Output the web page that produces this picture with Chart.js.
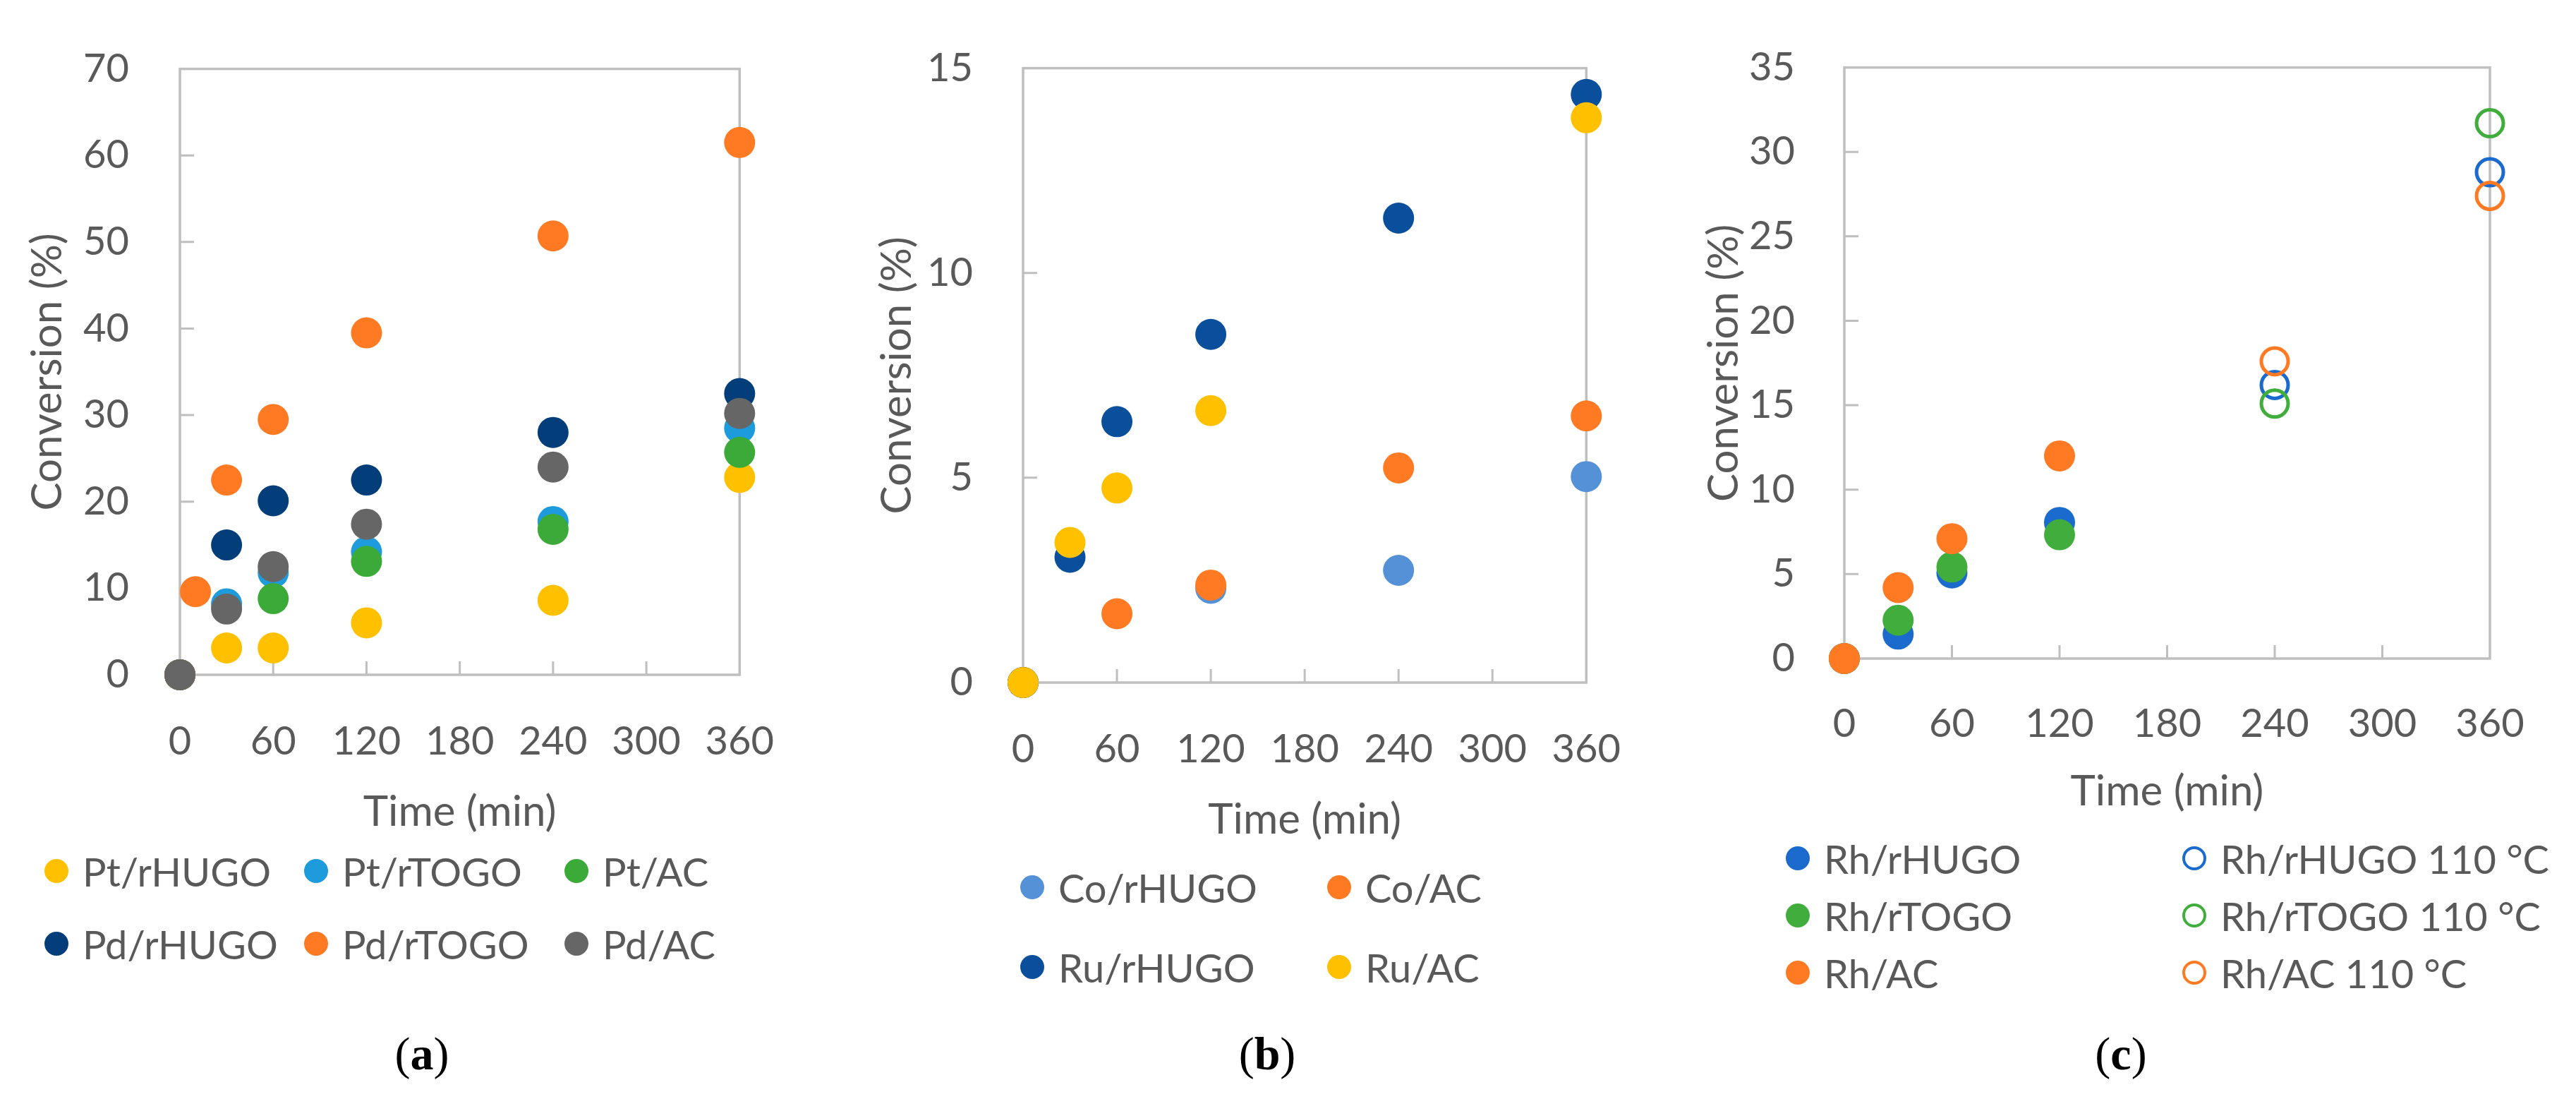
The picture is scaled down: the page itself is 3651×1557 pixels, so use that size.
<!DOCTYPE html>
<html>
<head>
<meta charset="utf-8">
<title>Conversion vs time</title>
<script src="https://cdn.jsdelivr.net/npm/chart.js@4.4.1/dist/chart.umd.min.js"></script>
<style>
	html, body {
		margin: 0;
		padding: 0;
		background: #ffffff;
	}

	#page {
		position: relative;
		width: 3651px;
		height: 1557px;
		overflow: hidden;
		font-family: Lato, "Open Sans", sans-serif;
		color: #595959;
	}

	canvas {
		position: absolute;
	}

	.lg-item {
		position: absolute;
		display: flex;
		align-items: center;
		height: 70px;
		font-size: 56px;
		white-space: nowrap;
	}

	.lg-mark {
		display: inline-block;
		box-sizing: border-box;
		width: 34px;
		height: 34px;
		border-radius: 50%;
		margin-right: 20px;
	}

	.caption {
		position: absolute;
		top: 1455px;
		width: 200px;
		text-align: center;
		font-family: "Liberation Serif", "DejaVu Serif", serif;
		font-size: 66px;
		color: #000000;
	}
</style>
</head>
<body>
<div id="page">
	<canvas id="chartA" width="1150" height="1187" style="left:0px;top:0px"></canvas>
	<canvas id="chartB" width="1150" height="1198" style="left:1200px;top:0px"></canvas>
	<canvas id="chartC" width="1251" height="1158" style="left:2400px;top:0px"></canvas>
	<div class="caption" style="left:498px">(<b>a</b>)</div>
	<div class="caption" style="left:1696px">(<b>b</b>)</div>
	<div class="caption" style="left:2906px">(<b>c</b>)</div>
</div>

<script>
/* =========================================
	DATA  (conversion in %, time in min)
=========================================*/

// (a) Pt and Pd catalysts
const timesA = [0, 30, 60, 120, 240, 360];
const timesPdTOGO = [0, 10, 30, 60, 120, 240, 360];
const ptRHUGO = [0, 3.1, 3.1, 6.0, 8.6, 22.8];
const ptRTOGO = [0, 8.2, 11.8, 14.2, 17.7, 28.5];
const ptAC = [0, null, 8.8, 13.1, 16.8, 25.7];
const pdRHUGO = [0, 15.0, 20.1, 22.5, 28.0, 32.5];
const pdRTOGO = [0, 9.6, 22.5, 29.5, 39.5, 50.7, 61.5];
const pdAC = [0, 7.6, 12.5, 17.4, 24.0, 30.2];

// (b) Co and Ru catalysts
const timesB = [0, 30, 60, 120, 240, 360];
const coRHUGO = [0, null, null, 2.3, 2.74, 5.03];
const coAC = [0, null, 1.68, 2.38, 5.24, 6.51];
const ruRHUGO = [0, 3.06, 6.37, 8.5, 11.34, 14.36];
const ruAC = [0, 3.42, 4.75, 6.64, null, 13.79];

// (c) Rh catalysts, filled = standard, open = 110 °C
const timesC = [0, 30, 60, 120, 240, 360];
const rhRHUGO = [0, 1.45, 5.07, 8.06, null, null];
const rhRTOGO = [0, 2.27, 5.42, 7.33, null, null];
const rhAC = [0, 4.2, 7.1, 12.0, null, null];
const rhRHUGO110 = [null, null, null, null, 16.2, 28.8];
const rhRTOGO110 = [null, null, null, null, 15.1, 31.7];
const rhAC110 = [null, null, null, null, 17.6, 27.4];

// axis ticks
const xTicks = { min: 0, max: 360, step: 60 };
const yTicksA = { min: 0, max: 70, step: 10 };
const yTicksB = { min: 0, max: 15, step: 5 };
const yTicksC = { min: 0, max: 35, step: 5 };

const xTitle = "Time (min)";
const yTitle = "Conversion (%)";

/* =========================================
	STYLE
=========================================*/
const TEXT = "#595959";
const FRAME = "#bfbfbf";

Chart.defaults.font.family = "Lato, 'Open Sans', sans-serif";
Chart.defaults.color = TEXT;

function pairs(times, vals) {
	return times.map((t, i) => ({ x: t, y: vals[i] })).filter(p => p.y !== null);
}

function filled(label, color, times, vals) {
	return {
		label: label,
		data: pairs(times, vals),
		pointRadius: 22,
		pointHoverRadius: 22,
		pointBorderWidth: 0,
		pointBackgroundColor: color,
		pointBorderColor: color,
		clip: false,
		open: false,
		color: color
	};
}

function hollow(label, color, times, vals) {
	return {
		label: label,
		data: pairs(times, vals),
		pointRadius: 19,
		pointHoverRadius: 19,
		pointBorderWidth: 5,
		pointBackgroundColor: "rgba(0,0,0,0)",
		pointBorderColor: color,
		clip: false,
		open: true,
		color: color
	};
}

// later series are painted on top (as in the original spreadsheet chart)
function stackOrder(sets) {
	sets.forEach((ds, i) => { ds.order = -i; });
	return sets;
}

// frame around the plot + tick marks pointing inwards
const framePlugin = {
	id: "frame",
	beforeDatasetsDraw(chart) {
		const { ctx, chartArea: a, scales: { x, y } } = chart;
		ctx.save();
		ctx.strokeStyle = FRAME;
		ctx.lineWidth = 3.5;
		ctx.strokeRect(a.left, a.top, a.right - a.left, a.bottom - a.top);
		ctx.lineWidth = 3;
		ctx.beginPath();
		x.ticks.forEach(t => {
			const px = x.getPixelForValue(t.value);
			if (px > a.left + 2 && px < a.right - 2) {
				ctx.moveTo(px, a.bottom);
				ctx.lineTo(px, a.bottom - 19);
			}
		});
		y.ticks.forEach(t => {
			const py = y.getPixelForValue(t.value);
			if (py > a.top + 2 && py < a.bottom - 2) {
				ctx.moveTo(a.left, py);
				ctx.lineTo(a.left + 20, py);
			}
		});
		ctx.stroke();
		ctx.restore();
	}
};

// box: plot area position inside the canvas
function makeChart(id, datasets, yt, box) {
	const canvas = document.getElementById(id);
	return new Chart(canvas, {
		type: "scatter",
		data: { datasets: datasets },
		plugins: [framePlugin],
		options: {
			responsive: false,
			animation: false,
			events: [],
			layout: {
				padding: {
					left: 0,
					top: box.top,
					right: canvas.width - box.right,
					bottom: 0
				}
			},
			plugins: {
				legend: { display: false },
				tooltip: { enabled: false }
			},
			scales: {
				x: {
					type: "linear",
					min: xTicks.min,
					max: xTicks.max,
					grid: { display: false },
					border: { display: false },
					ticks: {
						stepSize: xTicks.step,
						padding: box.xPad,
						maxRotation: 0,
						font: { size: 56 },
						color: TEXT
					},
					title: {
						display: true,
						text: xTitle,
						color: TEXT,
						font: { size: 60 },
						padding: { top: 0, bottom: 0 }
					},
					afterFit: s => { s.height = canvas.height - box.bottom; }
				},
				y: {
					type: "linear",
					min: yt.min,
					max: yt.max,
					grid: { display: false },
					border: { display: false },
					ticks: {
						stepSize: yt.step,
						padding: box.yPad,
						font: { size: 56 },
						color: TEXT
					},
					title: {
						display: true,
						text: yTitle,
						color: TEXT,
						font: { size: 60 },
						padding: { top: box.yTitlePad, bottom: 0 }
					},
					afterFit: s => { s.width = box.left; }
				}
			}
		}
	});
}

/* =========================================
	CHARTS
=========================================*/
const setA = stackOrder([
	filled("Pt/rHUGO", "#ffc000", timesA, ptRHUGO),
	filled("Pt/rTOGO", "#1e9bdc", timesA, ptRTOGO),
	filled("Pt/AC", "#3caa38", timesA, ptAC),
	filled("Pd/rHUGO", "#033e7a", timesA, pdRHUGO),
	filled("Pd/rTOGO", "#ff7a22", timesPdTOGO, pdRTOGO),
	filled("Pd/AC", "#666666", timesA, pdAC)
]);

const setB = stackOrder([
	filled("Co/rHUGO", "#5591d6", timesB, coRHUGO),
	filled("Co/AC", "#ff7a22", timesB, coAC),
	filled("Ru/rHUGO", "#0a4f9c", timesB, ruRHUGO),
	filled("Ru/AC", "#ffc000", timesB, ruAC)
]);

const setC = stackOrder([
	filled("Rh/rHUGO", "#1b6acd", timesC, rhRHUGO),
	filled("Rh/rTOGO", "#40ad3c", timesC, rhRTOGO),
	filled("Rh/AC", "#ff7a22", timesC, rhAC),
	hollow("Rh/rHUGO 110 °C", "#1b6acd", timesC, rhRHUGO110),
	hollow("Rh/rTOGO 110 °C", "#40ad3c", timesC, rhRTOGO110),
	hollow("Rh/AC 110 °C", "#ff7a22", timesC, rhAC110)
]);

makeChart("chartA", setA, yTicksA,
	{ left: 255, top: 52, right: 1060, bottom: 956, xPad: 53, yPad: 64, yTitlePad: 32 });
makeChart("chartB", setB, yTicksB,
	{ left: 250, top: 54, right: 1071, bottom: 967, xPad: 53, yPad: 63, yTitlePad: 36 });
makeChart("chartC", setC, yTicksC,
	{ left: 214, top: 54, right: 1129, bottom: 933, xPad: 51, yPad: 62, yTitlePad: 8 });

/* =========================================
	LEGENDS  (html, built from the datasets)
=========================================*/
function addLegend(sets, slots) {
	const page = document.getElementById("page");
	sets.forEach((ds, i) => {
		const [mx, my] = slots[i];
		const item = document.createElement("div");
		item.className = "lg-item";
		item.style.left = (mx - 17) + "px";
		item.style.top = (my - 35) + "px";
		const mark = document.createElement("span");
		mark.className = "lg-mark";
		if (ds.open) {
			mark.style.border = "4px solid " + ds.color;
		} else {
			mark.style.background = ds.color;
		}
		const txt = document.createElement("span");
		txt.textContent = ds.label;
		item.appendChild(mark);
		item.appendChild(txt);
		page.appendChild(item);
	});
}

addLegend(setA, [[80, 1234], [448, 1234], [817, 1234], [80, 1337], [448, 1337], [817, 1337]]);
addLegend(setB, [[1463, 1257], [1898, 1257], [1463, 1370], [1898, 1370]]);
addLegend(setC, [[2548, 1216], [2548, 1297], [2548, 1378], [3110, 1216], [3110, 1297], [3110, 1378]]);
</script>
</body>
</html>
